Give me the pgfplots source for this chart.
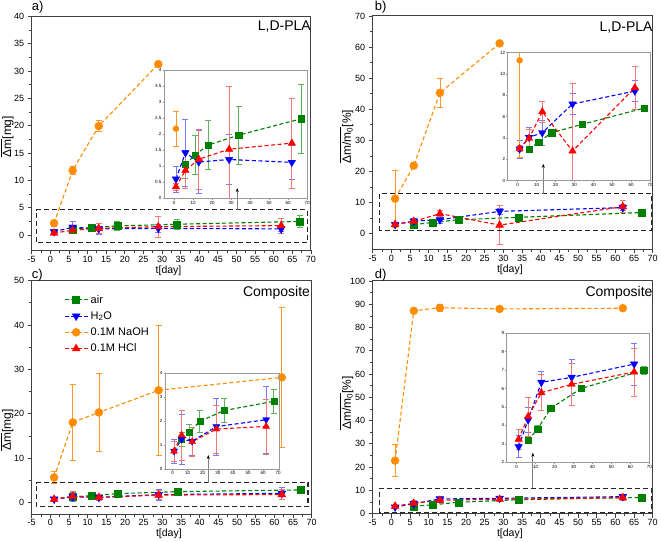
\documentclass[border=0pt]{standalone}
\usepackage{fontspec}
\setmainfont{Liberation Sans}
\usepackage{pgfplots}
\pgfplotsset{compat=1.18}
\usepackage{pgfplotstable}
\usetikzlibrary{arrows.meta}

\definecolor{cAir}{RGB}{0,128,0}
\definecolor{cAirE}{RGB}{90,180,90}
\definecolor{cH}{RGB}{0,0,255}
\definecolor{cHE}{RGB}{120,120,255}
\definecolor{cNa}{RGB}{255,140,0}
\definecolor{cNaE}{RGB}{255,150,40}
\definecolor{cCl}{RGB}{255,0,0}
\definecolor{cClE}{RGB}{240,120,120}

% ---------- data: x = day, y = value, e = error ----------
\pgfplotstableread{
x y e
6 1.06 0.45
11 1.35 0.61
18 1.66 0.76
34 1.97 0.91
67 2.48 1.08
}\Aair
\pgfplotstableread{
x y e
1 0.60 0.40
6 1.42 1.04
13 1.13 0.98
29 1.21 0.78
62 1.12 0.53
}\Ahh
\pgfplotstableread{
x y e
1 2.17 0.54
6 11.83 0.8
13 19.94 1.0
29 31.28 0.3
}\Ana
\pgfplotstableread{
x y e
1 0.36 0.10
6 0.87 0.55
13 1.22 0.93
29 1.53 1.97
62 1.72 1.40
}\Acl

\pgfplotstableread{
x y e
6 2.94 0.2
11 3.62 0.2
18 4.50 0.2
34 5.28 0.25
67 6.81 0.2
}\Bair
\pgfplotstableread{
x y e
1 2.97 0.83
6 4.06 0.9
13 4.50 1.2
29 7.19 1.0
62 8.40 1.0
}\Bhh
\pgfplotstableread{
x y e
1 11.28 9.1
6 21.9 0.5
13 45.3 4.8
29 61.2 0.5
}\Bna
\pgfplotstableread{
x y e
1 3.03 0.3
6 3.97 0.8
13 6.47 1.0
29 2.78 6.3
62 8.72 2.0
}\Bcl

\pgfplotstableread{
x y e
6 1.25 0.3
11 1.53 0.35
18 1.99 0.45
34 2.44 0.5
67 2.83 0.5
}\Cair
\pgfplotstableread{
x y e
1 0.75 0.5
6 1.25 1.05
13 1.16 0.6
29 1.77 1.2
62 2.06 1.4
}\Chh
\pgfplotstableread{
x y e
1 5.64 1.4
6 18.05 8.5
13 20.3 8.8
29 25.3 14.6
62 28.2 15.8
}\Cna
\pgfplotstableread{
x y e
1 0.74 0.4
6 1.42 1.05
13 1.14 0.6
29 1.67 1.0
62 1.78 1.15
}\Ccl

\pgfplotstableread{
x y e
6 3.20 0.1
11 3.81 0.2
18 4.93 0.1
34 6.01 0.1
67 6.99 0.2
}\Dair
\pgfplotstableread{
x y e
1 2.85 0.6
6 4.30 0.7
13 6.34 0.6
29 6.61 1.0
62 7.33 1.15
}\Dhh
\pgfplotstableread{
x y e
1 22.8 6.9
6 87.2 0.5
13 88.5 1.5
29 88.0 0.5
62 88.3 0.5
}\Dna
\pgfplotstableread{
x y e
1 3.25 0.55
6 4.48 1.05
13 5.78 0.98
29 6.23 1.13
62 6.90 1.3
}\Dcl

\tikzset{
  dashbox/.style={black!85, line width=1.1pt, dash pattern=on 5pt off 3pt},
  zoomarrow/.style={gray, line width=0.9pt, -{Stealth[length=4pt, width=3pt, black]}},
  boxlab/.style={anchor=base east, inner sep=0pt, font=\fontsize{14}{14}\selectfont},
  panlab/.style={anchor=west, inner sep=0pt, font=\fontsize{13}{13}\selectfont},
}
\pgfplotsset{
  ser/.style n args={4}{color=#1, line width=1.1pt, dash pattern=on 4pt off 2.5pt,
    mark=#3, mark options={solid, fill=#1, line width=0.4pt, #4},
    error bars/.cd, y dir=both, y explicit,
    error bar style={color=#2, line width=0.7pt, solid},
    error mark options={color=#2, rotate=90, mark size=3pt, line width=0.7pt, solid}},
  airS/.style={ser={cAir}{cAirE}{square*}{mark size=#1}}, airS/.default=3.5pt,
  hhS/.style={ser={cH}{cHE}{triangle*}{mark size=#1, rotate=180}}, hhS/.default=4.5pt,
  naS/.style={ser={cNa}{cNaE}{*}{mark size=#1}}, naS/.default=4pt,
  clS/.style={ser={cCl}{cClE}{triangle*}{mark size=#1}}, clS/.default=4.5pt,
  mainax/.style={scale only axis, anchor=south west, xmin=-5, xmax=70, xtick={-5,0,...,70},
    minor x tick num=1, minor y tick num=1, tick align=outside,
    xtick pos=bottom, ytick pos=left,
    axis line style={black!75, line width=1pt},
    every tick/.style={black!75, line width=0.8pt},
    major tick length=4pt, minor tick length=2.5pt,
    tick label style={font=\fontsize{9}{10}\selectfont},
    xticklabel style={inner sep=1.5pt},
    /pgf/number format/assume math mode=true, clip=false, scaled ticks=false,
    xlabel={t[day]}, xlabel style={font=\fontsize{10.5}{11}\selectfont, inner sep=0pt,
      at={(axis description cs:0.49,0)}, anchor=center, yshift=-20pt},
    ylabel style={font=\fontsize{12}{13}\selectfont}},
  insax/.style={scale only axis, anchor=south west, xmin=-5.3, xmax=70, xtick={0,10,...,70},
    tick align=outside, xtick pos=bottom, ytick pos=left,
    axis line style={gray!80, line width=0.8pt},
    every tick/.style={gray!80, line width=0.5pt},
    major tick length=1.5pt,
    tick label style={font=\fontsize{4.5}{5}\selectfont, inner sep=1pt},
    /pgf/number format/assume math mode=true, clip=true},
}

\begin{document}
\begin{tikzpicture}
\useasboundingbox (0,0) rectangle (661pt,541pt);

% ================= a) =================
\begin{axis}[mainax, at={(31.7pt,290.7pt)}, width=279.3pt, height=233.8pt,
  ymin=-2.8, ymax=40, ytick={0,5,...,40},
  ylabel={$\overline{\mbox{Δm}}$[mg]},
  ylabel style={at={(axis description cs:-0.088,0.486)}, anchor=center}]
\addplot[airS] table[x=x,y=y,y error=e]{\Aair};
\addplot[hhS] table[x=x,y=y,y error=e]{\Ahh};
\addplot[naS] table[x=x,y=y,y error=e]{\Ana};
\addplot[clS] table[x=x,y=y,y error=e]{\Acl};
\draw[dashbox] (axis cs:-3.8,-1.3) rectangle (axis cs:69,4.6);
\draw[zoomarrow] (axis cs:50.2,4.6) -- (axis cs:50.2,8.6);
\node[boxlab] at (rel axis cs:1,1) [yshift=-14pt] {L,D-PLA};
\node[panlab] at (rel axis cs:0,1) [yshift=9.5pt] {a)};
\end{axis}
\begin{axis}[insax, at={(164pt,342.7pt)}, width=143pt, height=128.3pt,
  ymin=0, ymax=4, ytick={0,0.5,...,4}]
\addplot[airS=3.2pt] table[x=x,y=y,y error=e]{\Aair};
\addplot[hhS=4.3pt] table[x=x,y=y,y error=e]{\Ahh};
\addplot[naS=3pt] table[x=x,y=y,y error=e]{
x y e
1 2.17 0.54
};
\addplot[clS=4.3pt] table[x=x,y=y,y error=e]{\Acl};
\end{axis}

% ================= b) =================
\begin{axis}[mainax, at={(372.7pt,291.7pt)}, width=280pt, height=233.3pt,
  ymin=-5, ymax=70, ytick={0,10,...,70},
  ylabel={$\overline{\mbox{Δm/m\textsubscript{0}}}$[\%]},
  ylabel style={at={(axis description cs:-0.093,0.483)}, anchor=center}]
\addplot[airS] table[x=x,y=y,y error=e]{\Bair};
\addplot[hhS] table[x=x,y=y,y error=e]{\Bhh};
\addplot[naS] table[x=x,y=y,y error=e]{\Bna};
\addplot[clS] table[x=x,y=y,y error=e]{\Bcl};
\draw[dashbox] (axis cs:-3.2,1) rectangle (axis cs:69.7,12.9);
\draw[zoomarrow] (axis cs:40.7,12.9) -- (axis cs:40.7,22.5);
\node[boxlab] at (rel axis cs:1,1) [yshift=-15.5pt] {L,D-PLA};
\node[panlab] at (rel axis cs:0,1) [xshift=2pt, yshift=8.7pt] {b)};
\end{axis}
\begin{axis}[insax, at={(507.7pt,360.3pt)}, width=142.3pt, height=128pt,
  ymin=0, ymax=12, ytick={0,2,...,12}]
\addplot[airS=3.2pt] table[x=x,y=y,y error=e]{\Bair};
\addplot[hhS=4.3pt] table[x=x,y=y,y error=e]{\Bhh};
\addplot[naS=3pt] table[x=x,y=y,y error=e]{
x y e
1 11.28 9.1
};
\addplot[clS=4.3pt] table[x=x,y=y,y error=e]{\Bcl};
\end{axis}

% ================= c) =================
\begin{axis}[mainax, at={(31.7pt,27pt)}, width=280pt, height=233.3pt,
  ymin=-2.6, ymax=50, ytick={0,10,...,50},
  ylabel={$\overline{\mbox{Δm}}$[mg]},
  ylabel style={at={(axis description cs:-0.088,0.36)}, anchor=center},
  legend style={draw=none, fill=none, at={(rel axis cs:0.115,0.95)}, anchor=north west,
    font=\fontsize{11}{12}\selectfont, row sep=2pt, inner sep=0pt,
    nodes={inner sep=2.5pt}},
  legend cell align=left,
  legend image code/.code={\draw[mark repeat=2, mark phase=2, #1] plot coordinates {(0pt,0pt) (11.5pt,0pt) (23pt,0pt)};}]
\addplot[airS] table[x=x,y=y,y error=e]{\Cair};
\addlegendentry{air}
\addplot[hhS] table[x=x,y=y,y error=e]{\Chh};
\addlegendentry{H\textsubscript{2}O}
\addplot[naS] table[x=x,y=y,y error=e]{\Cna};
\addlegendentry{0.1M NaOH}
\addplot[clS] table[x=x,y=y,y error=e]{\Ccl};
\addlegendentry{0.1M HCl}
\draw[dashbox] (axis cs:-3.8,-1) rectangle (axis cs:69,4.5);
\draw[zoomarrow] (axis cs:42.3,4.5) -- (axis cs:42.3,10.7);
\node[boxlab] at (rel axis cs:1,1) [xshift=-1.5pt, yshift=-16pt] {Composite};
\node[panlab] at (rel axis cs:0,1) [yshift=5.7pt] {c)};
\end{axis}
\begin{axis}[insax, at={(165pt,72pt)}, width=114pt, height=95.7pt,
  xmin=-5, xmax=70.5, ymin=0, ymax=4, ytick={0,1,...,4}]
\addplot[airS=3pt] table[x=x,y=y,y error=e]{\Cair};
\addplot[hhS=4pt] table[x=x,y=y,y error=e]{\Chh};
\addplot[clS=4pt] table[x=x,y=y,y error=e]{\Ccl};
\end{axis}

% ================= d) =================
\begin{axis}[mainax, at={(372.7pt,27.3pt)}, width=280pt, height=232.7pt,
  ymin=0, ymax=100, ytick={0,10,...,100},
  ylabel={$\overline{\mbox{Δm/m\textsubscript{0}}}$[\%]},
  ylabel style={at={(axis description cs:-0.093,0.476)}, anchor=center}]
\addplot[airS] table[x=x,y=y,y error=e]{\Dair};
\addplot[hhS] table[x=x,y=y,y error=e]{\Dhh};
\addplot[naS] table[x=x,y=y,y error=e]{\Dna};
\addplot[clS] table[x=x,y=y,y error=e]{\Dcl};
\draw[dashbox] (axis cs:-3.2,0.4) rectangle (axis cs:69.7,10.9);
\draw[zoomarrow] (axis cs:37.9,10.9) -- (axis cs:37.9,26.2);
\node[boxlab] at (rel axis cs:1,1) [yshift=-15.7pt] {Composite};
\node[panlab] at (rel axis cs:0,1) [xshift=2pt, yshift=6pt] {d)};
\end{axis}
\begin{axis}[insax, at={(506.7pt,78.7pt)}, width=142.6pt, height=129pt,
  ymin=2, ymax=9, ytick={2,3,...,9}]
\addplot[airS=3.2pt] table[x=x,y=y,y error=e]{\Dair};
\addplot[hhS=4.3pt] table[x=x,y=y,y error=e]{\Dhh};
\addplot[clS=4.3pt] table[x=x,y=y,y error=e]{\Dcl};
\end{axis}
\end{tikzpicture}
\end{document}
